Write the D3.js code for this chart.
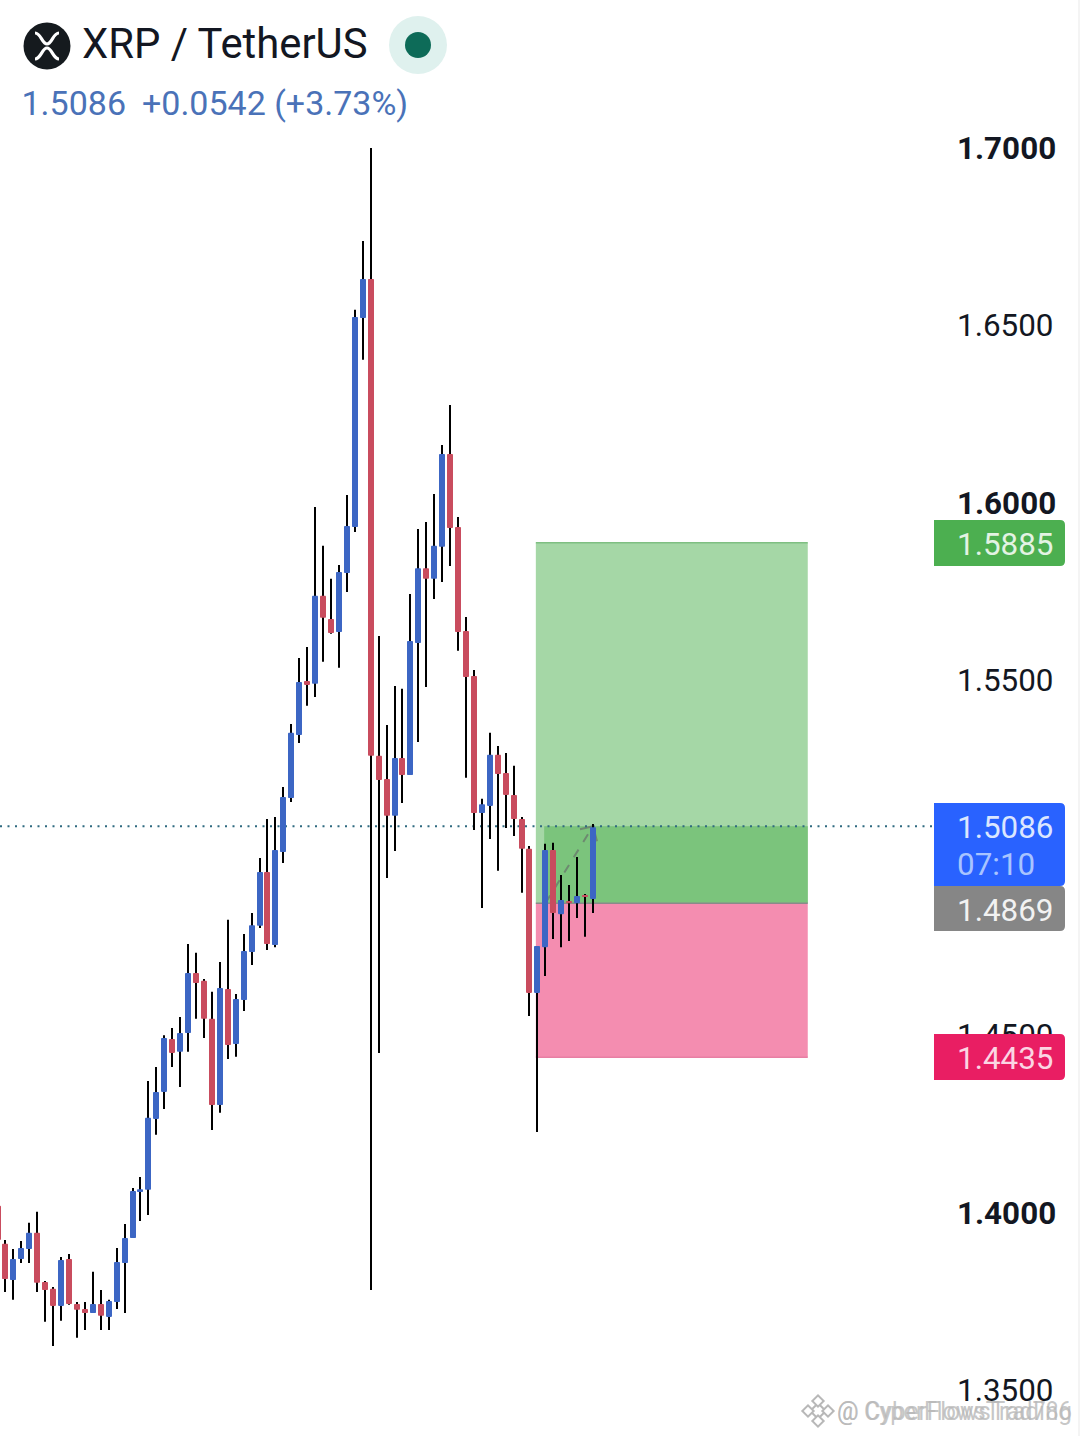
<!DOCTYPE html>
<html>
<head>
<meta charset="utf-8">
<script src="https://cdn.jsdelivr.net/npm/d3@7"></script>
<style>
html, body { margin: 0; padding: 0; background: #fff; }
svg { display: block; }
text { font-family: Roboto, sans-serif; }
</style>
</head>
<body>
<div id="chart"></div>
<script>
var opens = [1.4019,
    1.3912, 1.3810, 1.3869, 1.3897, 1.3943, 1.3804, 1.3785, 1.3737, 1.3869, 1.3742,
    1.3728, 1.3717, 1.3742, 1.3706, 1.3748, 1.3858, 1.3928, 1.4058, 1.4064, 1.4264,
    1.4340, 1.4489, 1.4453, 1.4506, 1.4675, 1.4653, 1.4546, 1.4303, 1.4630, 1.4475,
    1.4599, 1.4734, 1.4808, 1.4960, 1.4754, 1.5016, 1.5168, 1.5346, 1.5498, 1.5490,
    1.5738, 1.5673, 1.5636, 1.5802, 1.5932, 1.6521, 1.6631, 1.5287, 1.5222, 1.5118,
    1.5281, 1.5233, 1.5605, 1.5816, 1.5786, 1.5876, 1.6138, 1.5932, 1.5639, 1.5512,
    1.5126, 1.5146, 1.5290, 1.5239, 1.5177, 1.5109, 1.5025, 1.4619, 1.4748, 1.5022,
    1.4841, 1.4878, 1.4872, 1.4895, 1.4884];
var highs = [1.4035,
    1.3923, 1.3897, 1.3920, 1.3971, 1.4002, 1.3807, 1.3790, 1.3875, 1.3883, 1.3748,
    1.3748, 1.3833, 1.3782, 1.3754, 1.3900, 1.3968, 1.4069, 1.4100, 1.4371, 1.4410,
    1.4500, 1.4520, 1.4551, 1.4757, 1.4732, 1.4658, 1.4622, 1.4706, 1.4825, 1.4616,
    1.4785, 1.4844, 1.4999, 1.5109, 1.5115, 1.5199, 1.5377, 1.5563, 1.5594, 1.5988,
    1.5879, 1.5786, 1.5825, 1.6022, 1.6544, 1.6738, 1.7000, 1.5625, 1.5374, 1.5484,
    1.5476, 1.5743, 1.5926, 1.5946, 1.6025, 1.6163, 1.6276, 1.5960, 1.5678, 1.5529,
    1.5166, 1.5352, 1.5315, 1.5295, 1.5259, 1.5115, 1.5033, 1.4751, 1.5039, 1.5042,
    1.4951, 1.4923, 1.5002, 1.4898, 1.5095];
var lows = [1.3895,
    1.3776, 1.3754, 1.3858, 1.3858, 1.3776, 1.3692, 1.3624, 1.3695, 1.3740, 1.3647,
    1.3669, 1.3717, 1.3669, 1.3669, 1.3728, 1.3717, 1.3928, 1.3976, 1.3993, 1.4219,
    1.4292, 1.4410, 1.4354, 1.4453, 1.4546, 1.4492, 1.4233, 1.4281, 1.4433, 1.4439,
    1.4568, 1.4698, 1.4802, 1.4740, 1.4748, 1.4985, 1.5157, 1.5323, 1.5428, 1.5453,
    1.5552, 1.5631, 1.5535, 1.5749, 1.5918, 1.6403, 1.3782, 1.4450, 1.4943, 1.5019,
    1.5154, 1.5233, 1.5326, 1.5481, 1.5729, 1.5777, 1.5822, 1.5583, 1.5225, 1.5078,
    1.4858, 1.5053, 1.4963, 1.5084, 1.5061, 1.4901, 1.4554, 1.4227, 1.4667, 1.4771,
    1.4748, 1.4765, 1.4830, 1.4777, 1.4844];
var closes = [1.3923,
    1.3813, 1.3869, 1.3900, 1.3943, 1.3802, 1.3782, 1.3737, 1.3866, 1.3742, 1.3726,
    1.3717, 1.3742, 1.3709, 1.3751, 1.3861, 1.3928, 1.4061, 1.4066, 1.4267, 1.4340,
    1.4492, 1.4450, 1.4506, 1.4675, 1.4647, 1.4546, 1.4303, 1.4633, 1.4472, 1.4602,
    1.4737, 1.4810, 1.4960, 1.4757, 1.5022, 1.5171, 1.5352, 1.5495, 1.5487, 1.5738,
    1.5676, 1.5633, 1.5805, 1.5935, 1.6524, 1.6631, 1.5287, 1.5219, 1.5118, 1.5281,
    1.5233, 1.5611, 1.5816, 1.5786, 1.5879, 1.6138, 1.5929, 1.5636, 1.5509, 1.5126,
    1.5151, 1.5290, 1.5236, 1.5177, 1.5109, 1.5025, 1.4619, 1.4751, 1.5022, 1.4844,
    1.4881, 1.4872, 1.4892, 1.4889, 1.5086];

var tickValues = [1.35, 1.40, 1.45, 1.50, 1.55, 1.60, 1.65, 1.70];
var boldTicks = [1.40, 1.60, 1.70];

var lastPrice = 1.5086;
var entryPrice = 1.4869;
var targetPrice = 1.5885;
var stopPrice = 1.4435;
var positionStart = 67.8;
var positionFill = 68.85;
var positionEnd = 102.05;
var arrowStart = 69;

var titleText = "XRP / TetherUS";
var priceText = "1.5086";
var changeText = "+0.0542 (+3.73%)";
var countdownText = "07:10";

var blue = "#3c66c4";
var red = "#c94c5e";
var width = 1080;
var height = 1436;

var x = d3.scaleLinear().domain([0, 75]).range([-2.44, 593]);
var y = d3.scaleLinear().domain([1.35, 1.70]).range([1390, 148]);
var fmt = d3.format(".4f");

var candles = opens.map(function(d, i) {
    return { i: i, open: d, high: highs[i], low: lows[i], close: closes[i] };
});

var svg = d3.select("#chart").append("svg")
    .attr("width", width)
    .attr("height", height);

// right edge of the screen
svg.append("line")
    .attr("x1", 1079).attr("x2", 1079)
    .attr("y1", 0).attr("y2", height)
    .attr("stroke", "#f1f1f1")
    .attr("stroke-width", 1.5);

// price scale
var axis = d3.axisRight(y)
    .tickValues(tickValues)
    .tickSize(0)
    .tickPadding(0)
    .tickFormat(fmt);

var axisG = svg.append("g")
    .attr("transform", "translate(957,0.5)")
    .call(axis);
axisG.select(".domain").remove();
axisG.selectAll("text")
    .style("font-family", "Roboto, sans-serif")
    .style("font-size", "31.4px")
    .style("font-weight", function(d) { return boldTicks.indexOf(d) >= 0 ? 700 : 400; })
    .attr("fill", "#131722");

// long position tool
var boxG = svg.append("g").attr("transform", "translate(0,-1)");
boxG.append("rect")
    .attr("x", x(positionStart))
    .attr("y", y(targetPrice))
    .attr("width", x(positionEnd) - x(positionStart))
    .attr("height", y(entryPrice) - y(targetPrice))
    .attr("fill", "#a5d7a6");
boxG.append("rect")
    .attr("x", x(positionStart))
    .attr("y", y(entryPrice))
    .attr("width", x(positionEnd) - x(positionStart))
    .attr("height", y(stopPrice) - y(entryPrice))
    .attr("fill", "#f48db0");
boxG.append("rect")
    .attr("x", x(positionFill))
    .attr("y", y(lastPrice))
    .attr("width", x(positionEnd) - x(positionFill))
    .attr("height", y(entryPrice) - y(lastPrice))
    .attr("fill", "#7bc47c");
boxG.selectAll(".edge")
    .data([
        { price: targetPrice, color: "#7fbf82" },
        { price: entryPrice, color: "#8a8a8a" },
        { price: stopPrice, color: "#e77fa3" }
    ])
    .enter()
    .append("line")
    .attr("class", "edge")
    .attr("x1", x(positionStart))
    .attr("x2", x(positionEnd))
    .attr("y1", function(d) { return y(d.price); })
    .attr("y2", function(d) { return y(d.price); })
    .attr("stroke", function(d) { return d.color; })
    .attr("stroke-width", 1.5);

// dashed arrow from entry to the last price
var arrowX = x(75);
boxG.append("line")
    .attr("x1", x(arrowStart))
    .attr("y1", y(entryPrice))
    .attr("x2", arrowX)
    .attr("y2", y(lastPrice))
    .attr("stroke", "#6d8a70")
    .attr("stroke-width", 2)
    .attr("stroke-dasharray", "9 9");
boxG.append("path")
    .attr("d", "M" + (arrowX - 13) + "," + (y(lastPrice) + 3) + "L" + arrowX + "," + y(lastPrice) + "L" + (arrowX + 4) + "," + (y(lastPrice) + 15))
    .attr("fill", "none")
    .attr("stroke", "#6d8a70")
    .attr("stroke-width", 2);

// last price line
boxG.append("line")
    .attr("x1", 0).attr("x2", 934)
    .attr("y1", y(lastPrice)).attr("y2", y(lastPrice))
    .attr("stroke", "#2f6a80")
    .attr("stroke-width", 2)
    .attr("stroke-dasharray", "2 5.5");

// candles
var candleG = svg.append("g").attr("id", "candles");

candleG.selectAll(".wick")
    .data(candles)
    .enter()
    .append("line")
    .attr("class", "wick")
    .attr("x1", function(d) { return Math.round(x(d.i)); })
    .attr("x2", function(d) { return Math.round(x(d.i)); })
    .attr("y1", function(d) { return y(d.high); })
    .attr("y2", function(d) { return y(d.low); })
    .attr("stroke", "#000")
    .attr("stroke-width", 2);

candleG.selectAll(".body")
    .data(candles)
    .enter()
    .append("rect")
    .attr("class", "body")
    .attr("x", function(d) { return Math.round(x(d.i)) - 3; })
    .attr("y", function(d) { return y(Math.max(d.open, d.close)); })
    .attr("width", 6)
    .attr("height", function(d) { return Math.max(1.5, Math.abs(y(d.open) - y(d.close))); })
    .attr("rx", 0.8)
    .attr("fill", function(d) { return d.close >= d.open ? blue : red; });

// price badges, square on the left and rounded on the right
function badgePath(top, bottom) {
    var l = 934, r = 1065, c = 5;
    return "M" + l + "," + top + "H" + (r - c) + "Q" + r + "," + top + " " + r + "," + (top + c)
        + "V" + (bottom - c) + "Q" + r + "," + bottom + " " + (r - c) + "," + bottom + "H" + l + "Z";
}

var badges = [
    { top: 520, bottom: 566, fill: "#4caf50", label: fmt(targetPrice), color: "#e3f3e3" },
    { top: 1034, bottom: 1080, fill: "#e91e63", label: fmt(stopPrice), color: "#fbd5e3" },
    { top: 886, bottom: 931, fill: "#868686", label: fmt(entryPrice), color: "#f2f2f2" },
    { top: 803, bottom: 886, fill: "#2962ff", label: fmt(lastPrice), color: "#dbe6ff", sub: countdownText }
];

var badgeG = svg.selectAll(".badge")
    .data(badges)
    .enter()
    .append("g")
    .attr("class", "badge");
badgeG.append("path")
    .attr("d", function(d) { return badgePath(d.top, d.bottom); })
    .attr("fill", function(d) { return d.fill; });
badgeG.append("text")
    .attr("x", 957)
    .attr("y", function(d) { return d.top + 35; })
    .attr("font-size", 31.4)
    .attr("fill", function(d) { return d.color; })
    .text(function(d) { return d.label; });
badgeG.filter(function(d) { return d.sub; })
    .append("text")
    .attr("x", 957)
    .attr("y", function(d) { return d.top + 72; })
    .attr("font-size", 31.4)
    .attr("fill", "#a8c4ff")
    .text(function(d) { return d.sub; });

// header
var headG = svg.append("g");
headG.append("circle")
    .attr("cx", 47).attr("cy", 46).attr("r", 23.5)
    .attr("fill", "#151a1e");
headG.append("path")
    .attr("d", "M35,33C41,33 42,44 47,44C52,44 53,33 59,33M35,59C41,59 42,48 47,48C52,48 53,59 59,59")
    .attr("fill", "none")
    .attr("stroke", "#fff")
    .attr("stroke-width", 3.2);
headG.append("text")
    .attr("x", 82).attr("y", 58)
    .attr("font-size", 41.8)
    .attr("fill", "#131722")
    .text(titleText);
headG.append("circle")
    .attr("cx", 418).attr("cy", 45).attr("r", 29)
    .attr("fill", "#dff1ee");
headG.append("circle")
    .attr("cx", 418).attr("cy", 45).attr("r", 13)
    .attr("fill", "#0d6b58");
headG.append("text")
    .attr("x", 21.5).attr("y", 115)
    .attr("font-size", 34)
    .attr("fill", "#4a72b8")
    .text(priceText);
headG.append("text")
    .attr("x", 142).attr("y", 115)
    .attr("font-size", 34)
    .attr("fill", "#4a72b8")
    .text(changeText);

// watermark, two copies on top of each other
var markG = svg.append("g");
markG.selectAll(".diamond")
    .data([[818, 1411, 5.5], [818, 1401, 4], [818, 1421, 4], [808, 1411, 4], [828, 1411, 4]])
    .enter()
    .append("rect")
    .attr("class", "diamond")
    .attr("x", function(d) { return d[0] - d[2]; })
    .attr("y", function(d) { return d[1] - d[2]; })
    .attr("width", function(d) { return d[2] * 2; })
    .attr("height", function(d) { return d[2] * 2; })
    .attr("transform", function(d) { return "rotate(45," + d[0] + "," + d[1] + ")"; })
    .attr("fill", "#fff")
    .attr("stroke", "#b8b8b8")
    .attr("stroke-width", 2);
markG.selectAll(".mark")
    .data(["@ CyberFlowsTrading", "@ CyperFlowsTrad786"])
    .enter()
    .append("text")
    .attr("class", "mark")
    .attr("x", 837)
    .attr("y", 1420)
    .attr("font-size", 25)
    .attr("textLength", 235)
    .attr("lengthAdjust", "spacingAndGlyphs")
    .attr("fill", "#b8b8b8")
    .attr("fill-opacity", 0.8)
    .text(function(d) { return d; });
</script>
</body>
</html>
